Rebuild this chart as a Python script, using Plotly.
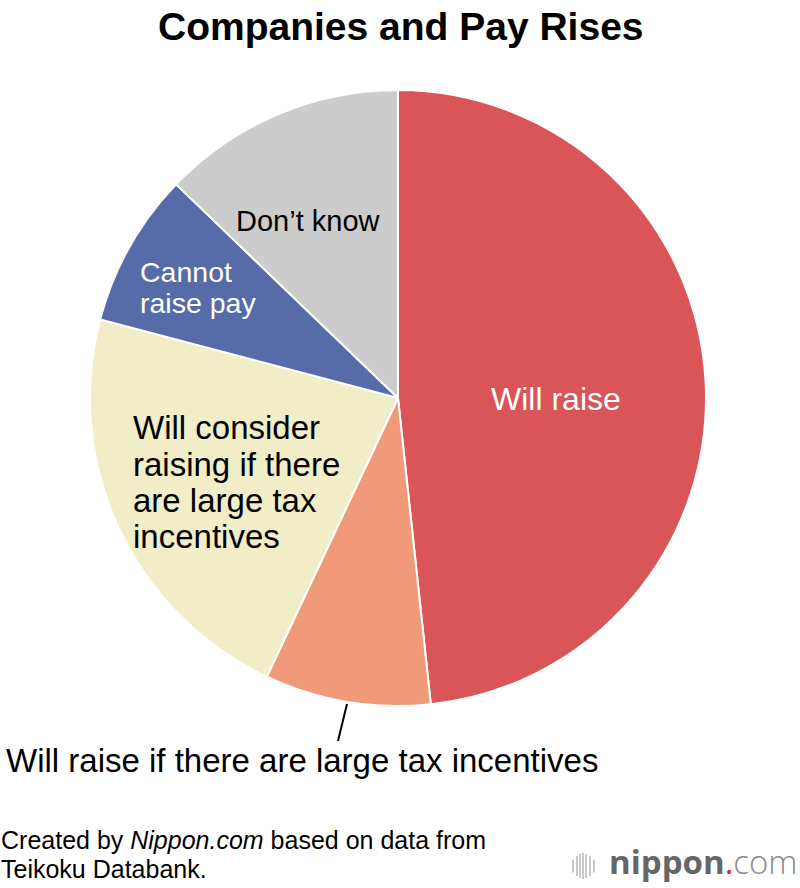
import plotly.graph_objects as go

# ---- data ----
categories = [
    "Will raise",
    "Will raise if there are large tax incentives",
    "Will consider raising if there are large tax incentives",
    "Cannot raise pay",
    "Don’t know",
]
shares = [48.3, 8.7, 22.1, 8.1, 12.8]
colors = ["#D95557", "#F19A7A", "#F0EDC7", "#566BA8", "#CCCCCC"]

title_text = "Companies and Pay Rises"
source_lines = ["Created by <i>Nippon.com</i> based on data from", "Teikoku Databank."]

W, H = 800, 888
FONT = "Liberation Sans, Arial, Helvetica, sans-serif"

def px(x):
    return x / W

def py(y):
    return 1 - y / H

cx, cy, r = 398, 398, 308

fig = go.Figure(
    go.Pie(
        labels=categories,
        values=shares,
        sort=False,
        direction="clockwise",
        rotation=0,
        marker=dict(colors=colors, line=dict(color="white", width=2)),
        textinfo="none",
        hoverinfo="label+percent",
        domain=dict(x=[px(cx - r), px(cx + r)], y=[py(cy + r), py(cy - r)]),
    )
)

annotations = []

def label(text, x, y, size, color="black", xanchor="left", bold=False):
    annotations.append(
        dict(
            text=f"<b>{text}</b>" if bold else text,
            x=px(x), y=py(y), xref="paper", yref="paper",
            xanchor=xanchor, yanchor="middle",
            showarrow=False, borderpad=0, borderwidth=0,
            font=dict(family=FONT, size=size, color=color),
            align="left",
        )
    )

# title
label(title_text, 401, 27, 39, xanchor="center", bold=True)

# slice labels
label(categories[0], 556, 399, 32, color="white", xanchor="center")
for i, line in enumerate(["Will consider", "raising if there", "are large tax", "incentives"]):
    label(line, 133, 428 + 36 * i, 33)
label("Cannot", 140, 272, 28.5, color="white")
label("raise pay", 140, 303, 28.5, color="white")
label(categories[4], 236, 221, 29)
label(categories[1], 6, 760, 33)

# source
label(source_lines[0], 1, 840, 25)
label(source_lines[1], 1, 869, 25)

# logo
annotations.append(dict(
    text="<b>nippon</b><span style='color:#E0232B'>.</span><span style='color:#8a8a8a;font-weight:300'>com</span>",
    x=px(799), y=py(861), xref="paper", yref="paper", xanchor="right", yanchor="middle",
    showarrow=False, borderpad=0, font=dict(family="Open Sans, Liberation Sans, sans-serif", size=33, color="#666666"),
))

shapes = [
    # leader line for small slice
    dict(type="line", xref="paper", yref="paper",
         x0=px(347), y0=py(704), x1=px(338), y1=py(741),
         line=dict(color="black", width=2)),
]
# logo bars
bar_x = [573, 577, 580, 583, 586, 590, 594]
bar_h = [13, 20, 24, 26, 24, 20, 13]
for bx, bh in zip(bar_x, bar_h):
    shapes.append(dict(type="line", xref="paper", yref="paper",
                       x0=px(bx), x1=px(bx), y0=py(866 - bh / 2), y1=py(866 + bh / 2),
                       line=dict(color="#C8C8C8", width=2)))

fig.update_layout(
    width=W, height=H,
    margin=dict(l=0, r=0, t=0, b=0),
    paper_bgcolor="white", plot_bgcolor="white",
    showlegend=False,
    annotations=annotations,
    shapes=shapes,
)

fig.write_html(
    "out.html",
    config={"displayModeBar": False},
    post_script="document.body.style.margin='0px';document.body.style.overflow='hidden';",
)
